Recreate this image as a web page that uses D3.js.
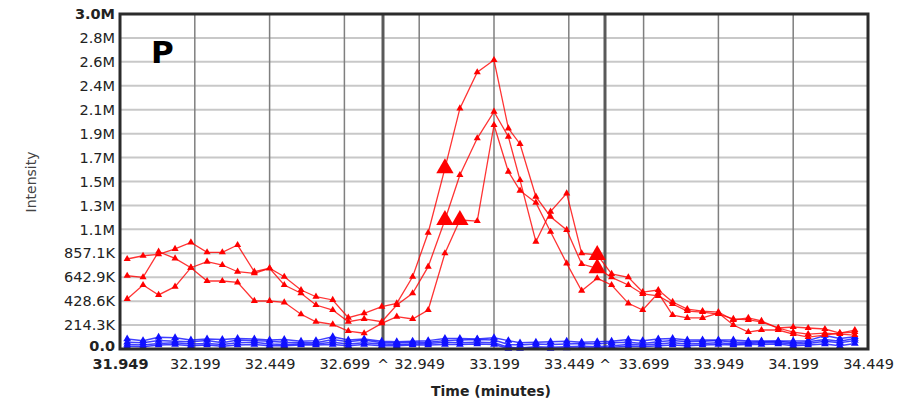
<!DOCTYPE html>
<html>
<head>
<meta charset="utf-8">
<script src="https://cdn.jsdelivr.net/npm/d3@7"></script>
<style>
  body { margin: 0; background: #fff; }
  svg { display: block; }
</style>
</head>
<body>
<svg id="chart" width="907" height="403"></svg>
<script>
// scan times (minutes), one per point
const times = [31.973, 32.026, 32.078, 32.133, 32.186, 32.240, 32.291, 32.342, 32.398, 32.449, 32.498, 32.554,
  32.604, 32.660, 32.712, 32.765, 32.824, 32.874, 32.927, 32.979, 33.035, 33.085, 33.143, 33.199,
  33.247, 33.286, 33.339, 33.388, 33.442, 33.492, 33.544, 33.592, 33.648, 33.696, 33.748, 33.796,
  33.845, 33.896, 33.949, 33.999, 34.049, 34.093, 34.149, 34.199, 34.249, 34.305, 34.355, 34.405];

// red traces (intensity in thousands)
const redA = [806, 835, 848, 896, 955, 866, 866, 931, 692, 723, 647, 528,
  468, 439, 280, 320, 379, 409, 647, 1041, 1618, 2155, 2478, 2588,
  1976, 1836, 1364, 1185, 1066, 761, 723, 642, 573, 493, 475, 403,
  340, 331, 313, 269, 260, 242, 188, 197, 188, 179, 143, 170];
const redB = [448, 573, 484, 558, 728, 782, 752, 692, 678, 723, 573, 499,
  394, 349, 244, 269, 244, 394, 499, 737, 1155, 1558, 1887, 2125,
  1901, 1513, 961, 1230, 1394, 857, 842, 672, 642, 510, 528, 421,
  358, 340, 331, 260, 278, 251, 188, 152, 134, 143, 134, 125];
const redC = [656, 642, 871, 812, 728, 609, 609, 597, 430, 430, 418, 311,
  244, 221, 161, 141, 230, 289, 269, 349, 857, 1155, 1146, 2006,
  1588, 1418, 1310, 1050, 767, 522, 633, 573, 409, 349, 501, 304,
  278, 278, 322, 215, 152, 170, 170, 134, 107, 125, 143, 152];

// blue traces (intensity in thousands)
const blue1 = [90, 75, 105, 100, 80, 90, 85, 95, 90, 80, 85, 70,
  75, 110, 80, 90, 70, 65, 70, 75, 95, 95, 90, 100,
  75, 55, 60, 65, 70, 60, 65, 70, 85, 75, 90, 95,
  80, 80, 80, 80, 72, 72, 72, 72, 75, 120, 95, 110];
const blue2 = [60, 55, 75, 70, 65, 75, 55, 80, 75, 70, 60, 55,
  55, 85, 65, 80, 55, 55, 60, 60, 75, 80, 85, 80,
  40, 35, 45, 40, 45, 50, 45, 55, 60, 50, 65, 75,
  65, 70, 75, 60, 60, 65, 70, 55, 65, 85, 70, 95];
const blue3 = [40, 35, 50, 55, 45, 50, 40, 55, 60, 45, 40, 45,
  45, 60, 45, 55, 45, 40, 45, 50, 60, 55, 60, 55,
  15, 10, 20, 15, 20, 25, 20, 30, 40, 35, 45, 55,
  45, 50, 55, 45, 50, 55, 55, 45, 50, 70, 55, 75];
const blue4 = [25, 20, 35, 40, 30, 35, 25, 35, 40, 30, 30, 35,
  35, 40, 30, 40, 30, 30, 35, 35, 40, 40, 45, 40,
  5, 5, 10, 5, 8, 10, 10, 15, 25, 20, 30, 35,
  30, 35, 40, 35, 40, 40, 45, 30, 35, 45, 30, 50];

// points drawn with the big marker: [series, index]
const bigPoints = [["A", 20], ["B", 20], ["C", 21], ["A", 30], ["B", 30]];

const xTicks = [31.949, 32.199, 32.449, 32.699, 32.949, 33.199, 33.449, 33.699, 33.949, 34.199, 34.449];
const xTickLabels = ["31.949", "32.199", "32.449", "32.699", "32.949", "33.199", "33.449", "33.699", "33.949", "34.199", "34.449"];
const caretTimes = [32.828, 33.570];
const yTicks = [0, 214.3, 428.6, 642.9, 857.1, 1071.4, 1285.7, 1500, 1714.3, 1928.6, 2142.9, 2357.1, 2571.4, 2785.7, 3000];
const yTickLabels = ["0.0", "214.3K", "428.6K", "642.9K", "857.1K", "1.1M", "1.3M", "1.5M", "1.7M", "1.9M", "2.1M", "2.4M", "2.6M", "2.8M", "3.0M"];

const svg = d3.select("#chart");
const plotL = 120, plotR = 868, plotT = 14, plotB = 349;

const x = d3.scaleLinear().domain([31.949, 34.449]).range([plotL, plotR]);
const y = d3.scaleLinear().domain([0, 3000]).range([plotB, plotT]);

// horizontal grid
svg.append("g").selectAll("line")
  .data(yTicks.slice(1, -1))
  .enter().append("line")
  .attr("x1", plotL).attr("x2", plotR)
  .attr("y1", d => y(d)).attr("y2", d => y(d))
  .attr("stroke", "#c8c8c8").attr("stroke-width", 2);

// vertical grid
svg.append("g").selectAll("line")
  .data(xTicks.slice(1, -1))
  .enter().append("line")
  .attr("x1", d => x(d)).attr("x2", d => x(d))
  .attr("y1", plotT).attr("y2", plotB)
  .attr("stroke", "#7f7f7f").attr("stroke-width", 1.5);

// caret lines
svg.append("g").selectAll("line")
  .data(caretTimes)
  .enter().append("line")
  .attr("x1", d => x(d)).attr("x2", d => x(d))
  .attr("y1", plotT).attr("y2", plotB)
  .attr("stroke", "#5a5a5a").attr("stroke-width", 3);

// axes
const yAxis = svg.append("g")
  .attr("transform", `translate(${plotL - 2},0)`)
  .call(d3.axisLeft(y).tickValues(yTicks).tickSize(0).tickPadding(3)
    .tickFormat((d, i) => yTickLabels[i]));
yAxis.select(".domain").remove();
yAxis.selectAll("text")
  .attr("font-family", "DejaVu Sans, Verdana, sans-serif")
  .attr("font-size", 14.5)
  .attr("fill", "#222")
  .attr("font-weight", (d, i) => (i === 0 || i === yTicks.length - 1) ? "bold" : "normal")
  .attr("dy", (d, i) => i === 0 ? "0.1em" : "0.32em");

const xAxis = svg.append("g")
  .attr("transform", `translate(0,${plotB + 2})`)
  .call(d3.axisBottom(x).tickValues(xTicks).tickSize(0).tickPadding(8)
    .tickFormat((d, i) => xTickLabels[i]));
xAxis.select(".domain").remove();
xAxis.selectAll("text")
  .attr("font-family", "DejaVu Sans, Verdana, sans-serif")
  .attr("font-size", 14.5)
  .attr("fill", "#222")
  .attr("font-weight", (d, i) => i === 0 ? "bold" : "normal");

svg.append("g").selectAll("text")
  .data(caretTimes)
  .enter().append("text")
  .attr("x", d => x(d)).attr("y", plotB + 21)
  .attr("text-anchor", "middle")
  .attr("font-family", "DejaVu Sans, Verdana, sans-serif")
  .attr("font-size", 14)
  .attr("fill", "#222")
  .text("^");

// traces
const line = d3.line().x((d, i) => x(times[i])).y(d => y(d));
const tri = d3.symbol().type(d3.symbolTriangle);

function drawTrace(vals, color, key, size, width) {
  const g = svg.append("g");
  g.append("path")
    .datum(vals)
    .attr("d", line)
    .attr("fill", "none")
    .attr("stroke", color)
    .attr("stroke-width", width)
    .attr("stroke-opacity", 0.8);
  g.selectAll("path.pt")
    .data(vals)
    .enter().append("path")
    .attr("class", "pt")
    .attr("transform", (d, i) => `translate(${x(times[i])},${y(d)})`)
    .attr("d", (d, i) => tri.size(bigPoints.some(b => b[0] === key && b[1] === i) ? 130 : size)())
    .attr("fill", color);
}

drawTrace(blue4, "#1010ff", "b4", 26, 1.5);
drawTrace(blue3, "#1010ff", "b3", 26, 1.5);
drawTrace(blue2, "#1010ff", "b2", 26, 1.5);
drawTrace(blue1, "#1010ff", "b1", 26, 1.5);
drawTrace(redC, "#ff0000", "C", 22, 1.3);
drawTrace(redB, "#ff0000", "B", 22, 1.3);
drawTrace(redA, "#ff0000", "A", 22, 1.3);

// frame
svg.append("rect")
  .attr("x", plotL).attr("y", plotT)
  .attr("width", plotR - plotL).attr("height", plotB - plotT)
  .attr("fill", "none")
  .attr("stroke", "#2b2b2b").attr("stroke-width", 3);

// titles
svg.append("text")
  .attr("transform", "translate(36,182) rotate(-90)")
  .attr("text-anchor", "middle")
  .attr("font-family", "DejaVu Sans, Verdana, sans-serif")
  .attr("font-size", 14)
  .attr("fill", "#444")
  .text("Intensity");

svg.append("text")
  .attr("x", 491).attr("y", 396)
  .attr("text-anchor", "middle")
  .attr("font-family", "DejaVu Sans, Verdana, sans-serif")
  .attr("font-size", 14)
  .attr("font-weight", "bold")
  .attr("fill", "#222")
  .text("Time (minutes)");

svg.append("text")
  .attr("x", 151).attr("y", 63)
  .attr("font-family", "DejaVu Sans, sans-serif")
  .attr("font-size", 31)
  .attr("font-weight", "bold")
  .attr("fill", "#000")
  .text("P");
</script>
</body>
</html>
